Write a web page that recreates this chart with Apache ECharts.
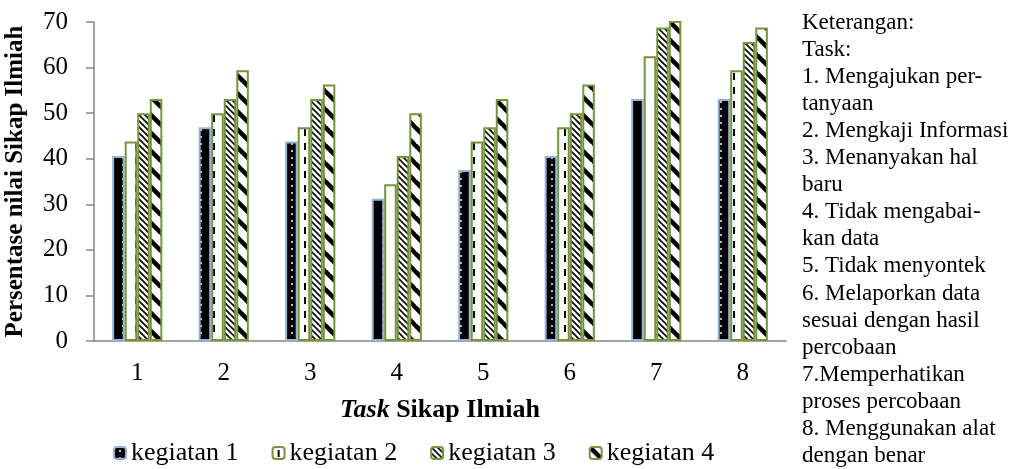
<!DOCTYPE html>
<html>
<head>
<meta charset="utf-8">
<script src="https://cdn.jsdelivr.net/npm/echarts@6/dist/echarts.min.js"></script>
<style>
html,body{margin:0;padding:0;background:#fff;}
#chart{width:1016px;height:469px;}
</style>
</head>
<body>
<div id="chart"></div>
<script>
const categories = ['1','2','3','4','5','6','7','8'];
const seriesNames = ['kegiatan 1','kegiatan 2','kegiatan 3','kegiatan 4'];
const kegiatan1 = [40.6, 46.9, 43.8, 31.2, 37.5, 40.6, 53.1, 53.1];
const kegiatan2 = [43.8, 50.0, 46.9, 34.4, 43.8, 46.9, 62.5, 59.4];
const kegiatan3 = [50.0, 53.1, 53.1, 40.6, 46.9, 50.0, 68.8, 65.6];
const kegiatan4 = [53.1, 59.4, 56.3, 50.0, 53.1, 56.3, 71.9, 68.8];
const yTicks = {min: 0, max: 70, interval: 10};
const noteLines = [
  'Keterangan:', 'Task:', '1. Mengajukan per-', 'tanyaan', '2. Mengkaji Informasi',
  '3. Menanyakan hal', 'baru', '4. Tidak mengabai-', 'kan data', '5. Tidak menyontek',
  '6. Melaporkan data', 'sesuai dengan hasil', 'percobaan', '7.Memperhatikan',
  'proses percobaan', '8. Menggunakan alat', 'dengan benar'
];

const FONT = '"Liberation Serif", "Times New Roman", serif';

function makeCanvas(w, h, draw) {
  const c = document.createElement('canvas');
  c.width = w; c.height = h;
  const ctx = c.getContext('2d');
  draw(ctx, w, h);
  return c;
}
// pattern 1: black with small light dots
const pat1 = makeCanvas(13, 7, (ctx, w, h) => {
  ctx.fillStyle = '#000'; ctx.fillRect(0, 0, w, h);
  ctx.fillStyle = '#bbb'; ctx.fillRect(5, 3, 2, 2);
});
// pattern 2: white with dashed vertical line
const pat2 = makeCanvas(13, 14, (ctx, w, h) => {
  ctx.fillStyle = '#fff'; ctx.fillRect(0, 0, w, h);
  ctx.fillStyle = '#000'; ctx.fillRect(5, 3, 2, 7);
});
function diag(P, lw) {
  return makeCanvas(P, P, (ctx, w, h) => {
    ctx.fillStyle = '#fff'; ctx.fillRect(0, 0, w, h);
    ctx.strokeStyle = '#000'; ctx.lineWidth = lw;
    for (let k = -1; k <= 1; k++) {
      ctx.beginPath();
      ctx.moveTo(k * P - 1, -1);
      ctx.lineTo(k * P + P + 1, P + 1);
      ctx.stroke();
    }
  });
}
const pat3 = diag(6, 1.6);
const pat4 = diag(18, 4.5);

const fills = [pat1, pat2, pat3, pat4];
const borders = ['#95B3D7', '#77933C', '#77933C', '#77933C'];
const dataArrs = [kegiatan1, kegiatan2, kegiatan3, kegiatan4];

const chart = echarts.init(document.getElementById('chart'));
chart.setOption({
  animation: false,
  backgroundColor: '#fff',
  textStyle: {fontFamily: FONT},
  grid: {left: 94, right: 230, top: 22, bottom: 128, outerBoundsMode: 'none', containLabel: false},
  legend: {
    left: 113, top: 440, padding: 0,
    itemWidth: 12, itemHeight: 12, itemGap: 33,
    textStyle: {fontFamily: FONT, fontSize: 26, color: '#000', padding: [0, 0, 0, 0]},
    data: seriesNames
  },
  xAxis: {
    type: 'category',
    data: categories,
    axisLine: {lineStyle: {color: '#868686', width: 1.5}},
    axisTick: {show: false},
    axisLabel: {fontFamily: FONT, fontSize: 25, color: '#000', margin: 20},
    name: '{i|Task} {b|Sikap Ilmiah}',
    nameLocation: 'middle',
    nameGap: 56,
    nameTextStyle: {
      fontFamily: FONT, fontSize: 26, fontWeight: 'bold',
      rich: {
        i: {fontFamily: FONT, fontSize: 26, fontWeight: 'bold', fontStyle: 'italic', color: '#000'},
        b: {fontFamily: FONT, fontSize: 26, fontWeight: 'bold', color: '#000'}
      }
    }
  },
  yAxis: {
    type: 'value',
    min: yTicks.min, max: yTicks.max, interval: yTicks.interval,
    splitLine: {show: false},
    axisLine: {show: true, lineStyle: {color: '#868686', width: 1.5}},
    axisTick: {show: true, length: 8, lineStyle: {color: '#868686', width: 1.5}},
    axisLabel: {fontFamily: FONT, fontSize: 25, color: '#000', margin: 26},
    name: 'Persentase nilai Sikap Ilmiah',
    nameLocation: 'middle',
    nameGap: 66,
    nameTextStyle: {fontFamily: FONT, fontSize: 25, fontWeight: 'bold', color: '#000'}
  },
  series: seriesNames.map((n, i) => ({
    name: n,
    type: 'bar',
    data: dataArrs[i],
    barGap: '0%',
    barCategoryGap: '42%',
    clip: true,
    itemStyle: {
      color: {image: fills[i], repeat: 'repeat'},
      borderColor: borders[i],
      borderWidth: 2
    },
    emphasis: {disabled: true}
  })),
  graphic: [{
    type: 'text',
    left: 802, top: 9,
    style: {
      text: noteLines.join('\n'),
      fontFamily: FONT, fontSize: 23, lineHeight: 27.1,
      fill: '#000'
    }
  }]
});
</script>
</body>
</html>
